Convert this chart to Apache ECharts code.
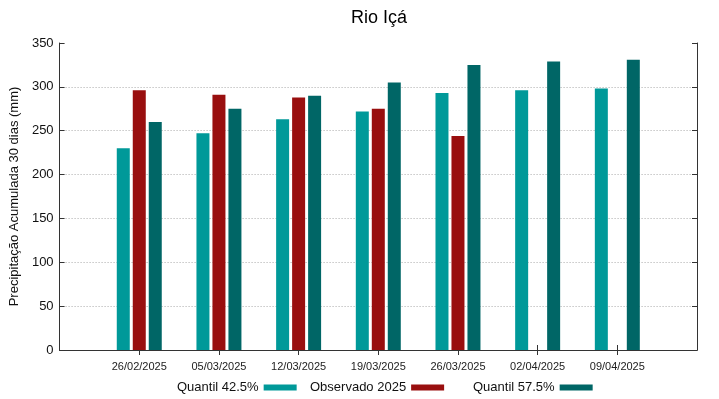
<!DOCTYPE html>
<html>
<head>
<meta charset="utf-8">
<script src="https://cdn.jsdelivr.net/npm/echarts@6/dist/echarts.min.js"></script>
<style>
    html, body { margin: 0; padding: 0; background: #fff; }
    #chart { width: 719px; height: 399px; }
</style>
</head>
<body>
<div id="chart"></div>
<script>
(function () {
    'use strict';
    // datas (vazios nas pontas para deixar margem)
    var datas = ['', '26/02/2025', '05/03/2025', '12/03/2025', '19/03/2025', '26/03/2025', '02/04/2025', '09/04/2025', ''];
    var quantil425 = ['-', 230, 247, 263, 272, 293, 296, 298, '-'];
    var observado = ['-', 296, 291, 288, 275, 244, '-', '-', '-'];
    var quantil575 = ['-', 260, 275, 290, 305, 325, 329, 331, '-'];
    var yTicks = [0, 50, 100, 150, 200, 250, 300, 350];

    var fonte = 'Liberation Sans, Arial, sans-serif';
    var corEixo = '#333';

    // so marca as datas, nao as pontas
    function tickDentro(i) {
        return i > 0 && i < datas.length - 1;
    }

    function legenda(nome, left) {
        return {
            data: [nome],
            left: left,
            top: 381,
            padding: 0,
            align: 'right',
            icon: 'rect',
            itemWidth: 33,
            itemHeight: 6,
            textStyle: { fontFamily: fonte, fontSize: 13, color: '#111' }
        };
    }

    var myChart = echarts.init(document.getElementById('chart'));
    var option = {
        animation: false,
        title: {
            text: 'Rio Içá',
            left: 346,
            top: 4,
            textStyle: { fontFamily: fonte, fontSize: 18, fontWeight: 'normal', color: '#000' }
        },
        legend: [
            legenda('Quantil 42.5%', 177),
            legenda('Observado 2025', 310),
            legenda('Quantil 57.5%', 473)
        ],
        grid: { left: 58, right: 22, top: 43, bottom: 49 },
        xAxis: [
            {
                type: 'category',
                data: datas,
                boundaryGap: false,
                axisLine: { lineStyle: { color: corEixo } },
                axisTick: { inside: true, length: 5, interval: tickDentro, lineStyle: { color: corEixo } },
                axisLabel: { fontFamily: fonte, fontSize: 11, color: '#222', margin: 11 },
                splitLine: { show: false }
            },
            {
                type: 'category',
                data: datas,
                position: 'top',
                boundaryGap: false,
                axisLine: { lineStyle: { color: corEixo } },
                axisTick: { inside: true, length: 5, interval: tickDentro, lineStyle: { color: corEixo } },
                axisLabel: { show: false },
                splitLine: { show: false }
            }
        ],
        yAxis: [
            {
                type: 'value',
                min: yTicks[0],
                max: yTicks[yTicks.length - 1],
                interval: 50,
                name: 'Precipitação Acumulada 30 dias (mm)',
                nameLocation: 'middle',
                nameGap: 33,
                nameTextStyle: { fontFamily: fonte, fontSize: 13, color: '#111' },
                axisLine: { show: true, lineStyle: { color: corEixo } },
                axisTick: { show: true, inside: true, length: 5, lineStyle: { color: corEixo } },
                axisLabel: { fontFamily: fonte, fontSize: 13, color: '#111', margin: 6 },
                splitLine: { show: true, showMinLine: false, showMaxLine: false, lineStyle: { color: '#aaa', type: [1, 2], width: 1 } }
            },
            {
                type: 'value',
                min: yTicks[0],
                max: yTicks[yTicks.length - 1],
                interval: 50,
                position: 'right',
                axisLine: { show: true, lineStyle: { color: corEixo } },
                axisTick: { show: true, inside: true, length: 5, lineStyle: { color: corEixo } },
                axisLabel: { show: false },
                splitLine: { show: false }
            }
        ],
        series: [
            {
                name: 'Quantil 42.5%',
                type: 'bar',
                data: quantil425,
                barWidth: 13,
                barGap: '23%',
                itemStyle: { color: '#009999' }
            },
            {
                name: 'Observado 2025',
                type: 'bar',
                data: observado,
                barWidth: 13,
                barGap: '23%',
                itemStyle: { color: '#990f0f' }
            },
            {
                name: 'Quantil 57.5%',
                type: 'bar',
                data: quantil575,
                barWidth: 13,
                barGap: '23%',
                itemStyle: { color: '#006666' }
            }
        ]
    };
    myChart.setOption(option);
}());
</script>
</body>
</html>
